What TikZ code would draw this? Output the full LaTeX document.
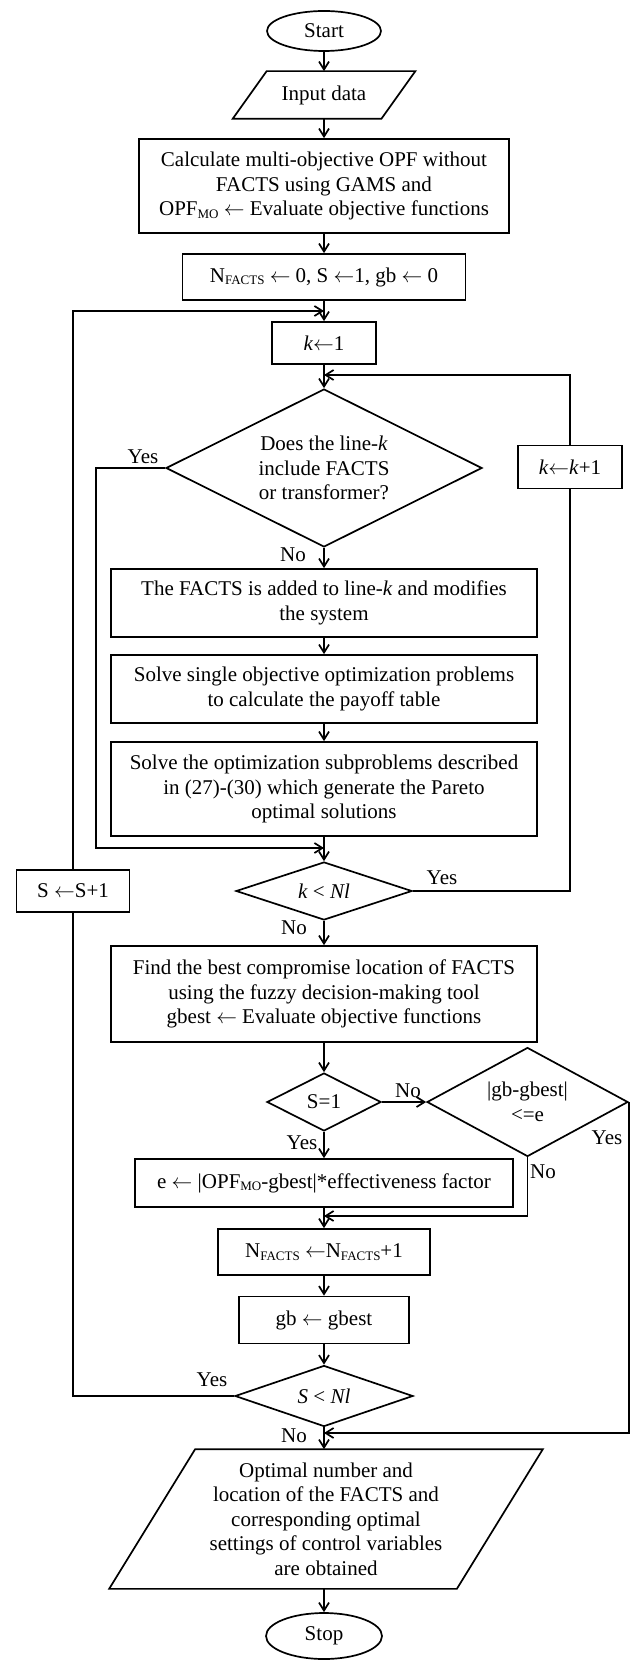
\documentclass[tikz,border=0pt]{standalone}
\usepackage{fontspec}
\setmainfont{Liberation Serif}
\usetikzlibrary{shapes.geometric,arrows.meta,calc}
\newcommand\larrow{\ensuremath{\leftarrow}}
\newcommand\mysub[1]{\raisebox{-0.12em}{\fontsize{13}{13}\selectfont #1}}
\begin{document}
\begin{tikzpicture}[x=1pt,y=-1pt,
  base/.style={font=\fontsize{21}{24.5}\selectfont, line width=1.7pt, align=center, inner sep=0pt},
  box/.style={base, draw, rectangle},
  term/.style={base, draw, ellipse},
  dec/.style={base, draw, diamond},
  para/.style={base, rectangle},
  arr/.style={line width=1.7pt, -{Straight Barb[length=8pt,width=10pt]}},
  ln/.style={line width=1.7pt},
  lab/.style={font=\fontsize{21}{24.5}\selectfont, inner sep=0pt}]
\useasboundingbox (0,0) rectangle (639,1661);

% main column
\node[term, minimum width=114pt, minimum height=40pt] (start) at (324,31) {Start};
\node[para, minimum width=147pt, minimum height=46pt] (input) at (324,95) {Input data};
\draw[ln] ([xshift=17pt]input.north west) -- ([xshift=17pt]input.north east)
  -- ([xshift=-17pt]input.south east) -- ([xshift=-17pt]input.south west) -- cycle;
\node[box, minimum width=370pt, minimum height=94pt] (calc) at (324,186)
  {Calculate multi-objective OPF without\\FACTS using GAMS and\\OPF\mysub{MO} \larrow{} Evaluate objective functions};
\node[box, minimum width=283pt, minimum height=46pt] (init) at (324,277)
  {N\mysub{FACTS} \larrow{} 0, S \larrow1, gb \larrow{} 0};
\node[box, minimum width=104pt, minimum height=42pt] (k1) at (324,343) {\textit{k}\larrow1};
\node[dec, shape aspect=2, minimum width=316pt, minimum height=158pt] (d1) at (324,468)
  {Does the line-\textit{k}\\include FACTS\\or transformer?};
\node[box, minimum width=104pt, minimum height=43pt] (kinc) at (570,467) {\textit{k}\larrow\textit{k}+1};
\node[box, minimum width=426pt, minimum height=68pt] (added) at (324,603)
  {The FACTS is added to line-\textit{k} and modifies\\the system};
\node[box, minimum width=426pt, minimum height=68pt] (single) at (324,689)
  {Solve single objective optimization problems\\to calculate the payoff table};
\node[box, minimum width=426pt, minimum height=94pt] (pareto) at (324,789)
  {Solve the optimization subproblems described\\in (27)-(30) which generate the Pareto\\optimal solutions};
\node[dec, shape aspect=3, minimum width=176pt, minimum height=58pt] (d2) at (324,891)
  {\textit{k} < \textit{Nl}};
\node[box, minimum width=113pt, minimum height=42pt] (sinc) at (73,891) {S \larrow S+1};
\node[box, minimum width=426pt, minimum height=96pt] (find) at (324,994)
  {Find the best compromise location of FACTS\\using the fuzzy decision-making tool\\gbest \larrow{} Evaluate objective functions};
\node[dec, shape aspect=2, minimum width=114pt, minimum height=58pt] (d3) at (324,1102) {S=1};
\node[dec, shape aspect=2, minimum width=201pt, minimum height=109pt] (d4) at (527.5,1102)
  {|gb-gbest|\\<=e};
\node[box, minimum width=378pt, minimum height=48pt] (ebox) at (324,1183)
  {e \larrow{} |OPF\mysub{MO}-gbest|*effectiveness factor};
\node[box, minimum width=212pt, minimum height=46pt] (nf) at (324,1252)
  {N\mysub{FACTS} \larrow N\mysub{FACTS}+1};
\node[box, minimum width=170pt, minimum height=47pt] (gbb) at (324,1320) {gb \larrow{} gbest};
\node[dec, shape aspect=3, minimum width=178pt, minimum height=61pt] (d5) at (324,1396)
  {\textit{S} < \textit{Nl}};
\node[para, minimum width=346pt, minimum height=138pt] (out) at (326,1519)
  {Optimal number and\\location of the FACTS and\\corresponding optimal\\settings of control variables\\are obtained};
\draw[ln] ([xshift=43pt]out.north west) -- ([xshift=43pt]out.north east)
  -- ([xshift=-43pt]out.south east) -- ([xshift=-43pt]out.south west) -- cycle;
\node[term, minimum width=116pt, minimum height=46pt] (stop) at (324,1636) {Stop};

% helper coordinates
\coordinate (m1) at (324,311);
\coordinate (m2) at (324,375);
\coordinate (m3) at (324,848);
\coordinate (m4) at (324,1216);
\coordinate (m5) at (324,1433);
\coordinate (c1) at (73,1396);
\coordinate (c2) at (73,311);
\coordinate (c3) at (96,468);
\coordinate (c4) at (96,848);
\coordinate (c5) at (570,891);
\coordinate (c6) at (570,375);
\coordinate (c7) at (527.5,1216);

% straight connectors
\draw[arr] (start) -- (input);
\draw[arr] (input) -- (calc);
\draw[arr] (calc) -- (init);
\draw[arr] (init) -- (k1);
\draw[arr] (k1) -- (d1);
\draw[arr] (d1) -- (added);
\draw[arr] (added) -- (single);
\draw[arr] (single) -- (pareto);
\draw[arr] (pareto) -- (d2);
\draw[arr] (d2) -- (find);
\draw[arr] (find) -- (d3);
\draw[arr] (d3) -- (ebox);
\draw[arr] (d3.east) -- (d4.west);
\draw[arr] (ebox) -- (nf);
\draw[arr] (nf) -- (gbb);
\draw[arr] (gbb) -- (d5);
\draw[arr] (d5.south) -- (d5.south |- out.north);
\draw[arr] (out.south -| stop) -- (stop);

% loops
\draw[arr] (d1.west) -- (c3) -- (c4) -- (m3);
\draw[ln] (d2.east) -- (c5) -- (kinc.south);
\draw[arr] (kinc.north) -- (c6) -- (m2);
\draw[ln] (d5.west) -- (c1) -- (sinc.south);
\draw[arr] (sinc.north) -- (c2) -- (m1);
\draw[arr] (d4.south) -- (c7) -- (m4);
\draw[arr] (d4.east) -- (d4.east |- m5) -- (m5);

% labels
\node[lab] (y1) at (143,457) {Yes};
\node[lab] (n1) at (293,555) {No};
\node[lab] (y2) at (442,878) {Yes};
\node[lab] (n2) at (294,928) {No};
\node[lab] (n3) at (408,1091) {No};
\node[lab] (y3) at (302,1143) {Yes};
\node[lab] (y4) at (607,1138) {Yes};
\node[lab] (n4) at (543,1172) {No};
\node[lab] (y5) at (212,1380) {Yes};
\node[lab] (n5) at (294,1436) {No};
\end{tikzpicture}
\end{document}
